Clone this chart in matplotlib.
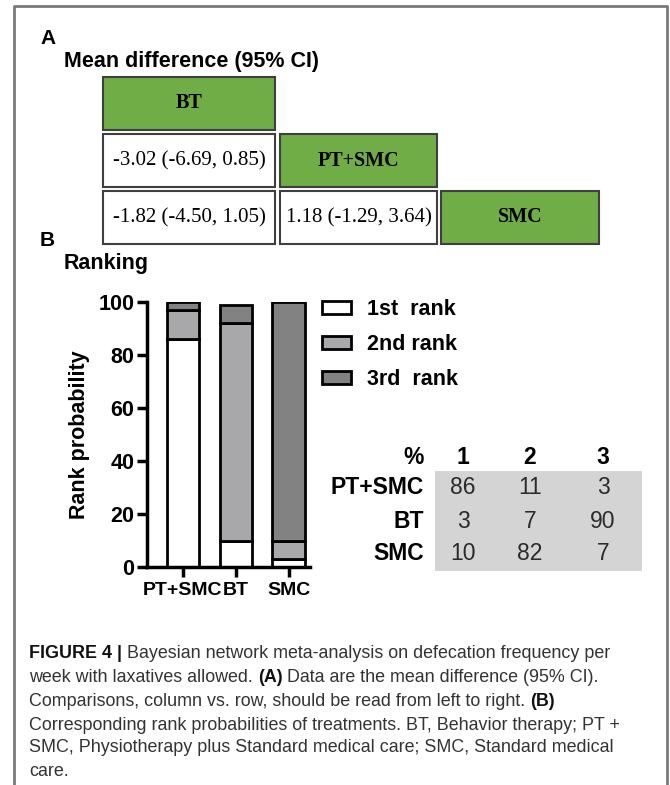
import matplotlib
matplotlib.use("Agg")
import matplotlib.pyplot as plt
from matplotlib.patches import Rectangle
from matplotlib.lines import Line2D
import numpy as np

# --- data ---
treatments = ["BT", "PT+SMC", "SMC"]
# lower-triangle comparisons (row, col) -> mean difference (95% CI)
md_row = [1, 2, 2]
md_col = [0, 0, 1]
md_est = [-3.02, -1.82, 1.18]
md_lo = [-6.69, -4.50, -1.29]
md_hi = [0.85, 1.05, 3.64]

bar_labels = ["PT+SMC", "BT", "SMC"]
rank1 = [86, 10, 3]
rank2 = [11, 82, 7]
rank3 = [3, 7, 90]
rank_names = ["1st  rank", "2nd rank", "3rd  rank"]

table_cols = ["1", "2", "3"]
table_rows = ["PT+SMC", "BT", "SMC"]
table_vals = [[86, 11, 3], [3, 7, 90], [10, 82, 7]]

caption = [
    [("FIGURE 4 |", True), ("Bayesian network meta-analysis on defecation frequency per", False)],
    [("week with laxatives allowed.", False), ("(A)", True), ("Data are the mean difference (95% CI).", False)],
    [("Comparisons, column vs. row, should be read from left to right.", False), ("(B)", True)],
    [("Corresponding rank probabilities of treatments. BT, Behavior therapy; PT +", False)],
    [("SMC, Physiotherapy plus Standard medical care; SMC, Standard medical", False)],
    [("care.", False)],
]

W, H = 670, 785
SANS = "Liberation Sans"
SERIF = "Liberation Serif"
GREEN = "#70AD47"


def fx(x):
    return x / W


def fy(y):
    return 1 - y / H


fig = plt.figure(figsize=(W / 100, H / 100), dpi=100)

# outer frame (open at the bottom)
frame = dict(color="#7a7a7a", lw=2, transform=fig.transFigure)
fig.add_artist(Line2D([fx(14), fx(14), fx(667), fx(667)],
                      [fy(785), fy(6), fy(6), fy(785)], **frame))

# --- panel A ---
fig.text(fx(40), fy(38), "A", fontsize=15, fontweight="bold", family=SANS, va="center")
fig.text(fx(64), fy(62), "Mean difference (95% CI)", fontsize=15.5,
         fontweight="bold", family=SANS, va="center")

ax_m = fig.add_axes([fx(103), fy(243), (599 - 103) / W, (243 - 77) / H])
ax_m.set_xlim(0, 496)
ax_m.set_ylim(166, 0)
ax_m.axis("off")
col_x = [0, 177, 338]
col_w = [172, 157, 158]
row_y = [0, 57, 114]
cell_h = 53

for i, name in enumerate(treatments):
    ax_m.add_patch(Rectangle((col_x[i], row_y[i]), col_w[i], cell_h, clip_on=False,
                             facecolor=GREEN, edgecolor="#3f3f3f", lw=1.5))
    ax_m.text(col_x[i] + col_w[i] / 2, row_y[i] + cell_h / 2, name,
              ha="center", va="center", family=SERIF, fontweight="bold", fontsize=14.5)

for r, c, e, lo, hi in zip(md_row, md_col, md_est, md_lo, md_hi):
    ax_m.add_patch(Rectangle((col_x[c], row_y[r]), col_w[c], cell_h, clip_on=False,
                             facecolor="white", edgecolor="#3f3f3f", lw=1.5))
    ax_m.text(col_x[c] + col_w[c] / 2, row_y[r] + cell_h / 2,
              f"{e:.2f} ({lo:.2f}, {hi:.2f})",
              ha="center", va="center", family=SERIF, fontsize=15)

# --- panel B ---
fig.text(fx(40), fy(240), "B", fontsize=15, fontweight="bold", family=SANS, va="center")
fig.text(fx(64), fy(264), "Ranking", fontsize=15.5, fontweight="bold", family=SANS, va="center")

ax = fig.add_axes([fx(147), fy(567), (310 - 147) / W, (567 - 302) / H])
x = np.arange(len(bar_labels))
r1 = np.array(rank1)
r2 = np.array(rank2)
r3 = np.array(rank3)
bkw = dict(width=0.62, edgecolor="black", linewidth=2)
b1 = ax.bar(x, r1, color="white", **bkw)
b2 = ax.bar(x, r2, bottom=r1, color="#a8a8ab", **bkw)
b3 = ax.bar(x, r3, bottom=r1 + r2, color="#828282", **bkw)

ax.set_xlim(-0.68, 2.40)
ax.set_ylim(0, 100)
ax.set_yticks([0, 20, 40, 60, 80, 100])
ax.set_xticks(x)
ax.set_xticklabels(bar_labels)
for s in ["top", "right"]:
    ax.spines[s].set_visible(False)
for s in ["left", "bottom"]:
    ax.spines[s].set_linewidth(2.5)
ax.tick_params(width=2.5, length=7, pad=2)
ax.tick_params(axis="x", pad=4)
for lab in ax.get_yticklabels():
    lab.set_fontweight("bold")
    lab.set_family(SANS)
    lab.set_fontsize(15.5)
for lab in ax.get_xticklabels():
    lab.set_fontweight("bold")
    lab.set_family(SANS)
    lab.set_fontsize(14)
ax.set_ylabel("Rank probability", fontsize=15.5, fontweight="bold", family=SANS, labelpad=6)

leg = fig.legend([b1, b2, b3], rank_names, loc="upper left",
                 bbox_to_anchor=(fx(322), fy(299)), frameon=False,
                 prop=dict(family=SANS, weight="bold", size=15.5),
                 handlelength=1.35, handleheight=0.55, handletextpad=0.75,
                 labelspacing=0.66, borderpad=0, borderaxespad=0)

# ranking table
fig.add_artist(Rectangle((fx(435), fy(571)), (642 - 435) / W, (571 - 471) / H,
                         transform=fig.transFigure, facecolor="#d4d4d4", edgecolor="none"))
col_cx = [463, 530, 603]
row_cy = [488, 521, 553]
tkw = dict(family=SANS, fontsize=16.5, va="center")
fig.text(fx(424), fy(457), "%", ha="right", fontweight="bold", **tkw)
for j, c in enumerate(table_cols):
    fig.text(fx(col_cx[j]), fy(457), c, ha="center", fontweight="bold", **tkw)
for i, rname in enumerate(table_rows):
    fig.text(fx(424), fy(row_cy[i]), rname, ha="right", fontweight="bold", **tkw)
    for j, v in enumerate(table_vals[i]):
        fig.text(fx(col_cx[j]), fy(row_cy[i]), str(v), ha="center", color="#2b2b2b", **tkw)

# --- caption ---
renderer = fig.canvas.get_renderer()
cap_kw = dict(family=SANS, fontsize=12.9, va="center")


def text_width(s, bold):
    t = fig.text(0, 0, s, fontweight="bold" if bold else "normal", **cap_kw)
    w = t.get_window_extent(renderer).width
    t.remove()
    return w


space_w = text_width("a a", False) - text_width("aa", False)
line_y = [653, 677, 701, 725, 748, 772]
for ly, runs in zip(line_y, caption):
    xp = 29
    for s, bold in runs:
        t = fig.text(fx(xp), fy(ly), s, fontweight="bold" if bold else "normal",
                     color="#111111" if bold else "#333333", **cap_kw)
        xp += t.get_window_extent(renderer).width + space_w

fig.savefig("out.png", dpi=100)
